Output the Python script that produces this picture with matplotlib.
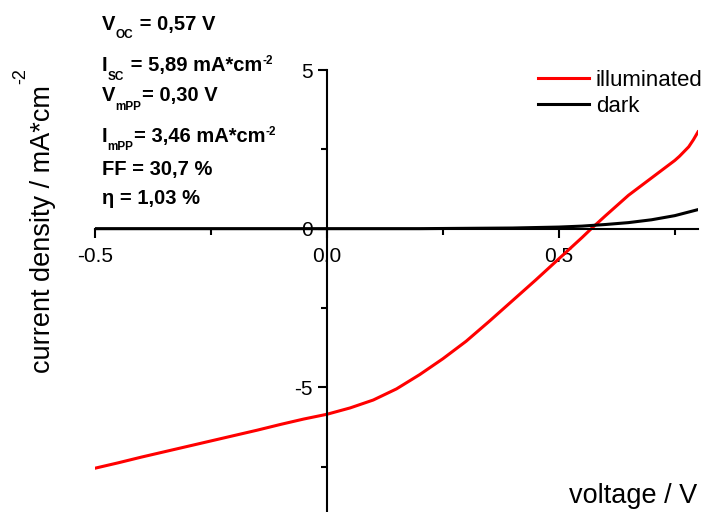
import matplotlib
matplotlib.use('Agg')
import matplotlib.pyplot as plt
from matplotlib.ticker import FixedLocator, FixedFormatter

plt.rcParams['font.family'] = ['Liberation Sans', 'DejaVu Sans']

# J-V curves
voltage_light = [-0.5, -0.45, -0.4, -0.35, -0.3, -0.25, -0.2, -0.15, -0.1, -0.05, 0.0,
                 0.05, 0.1, 0.15, 0.2, 0.25, 0.3, 0.35, 0.4, 0.45, 0.5, 0.55, 0.57,
                 0.6, 0.65, 0.7, 0.72, 0.75, 0.76, 0.78, 0.79, 0.8]
current_light = [-7.55, -7.38, -7.2, -7.03, -6.86, -6.69, -6.52, -6.35, -6.17, -6.0, -5.85,
                 -5.65, -5.4, -5.05, -4.6, -4.1, -3.55, -2.92, -2.27, -1.62, -0.95, -0.28, 0.0,
                 0.4, 1.05, 1.6, 1.82, 2.15, 2.28, 2.58, 2.8, 3.05]
voltage_dark = [-0.5, -0.2, 0.0, 0.2, 0.3, 0.4, 0.5, 0.55, 0.6, 0.65, 0.7, 0.75, 0.8]
current_dark = [0.0, 0.0, 0.0, 0.0, 0.01, 0.02, 0.05, 0.08, 0.13, 0.19, 0.28, 0.41, 0.6]

x_ticks = [-0.5, 0.0, 0.5]
x_tick_labels = ['-0.5', '0.0', '0.5']
x_minor_ticks = [-0.25, 0.25, 0.75]
y_ticks = [-5, 0, 5]
y_tick_labels = ['-5', '0', '5']
y_minor_ticks = [-7.5, -2.5, 2.5]

# cell parameters: (text, kind) pieces, kind 0 = normal, -1 = subscript, 1 = superscript
param_lines = [
    [('V', 0), ('OC', -1), (' = 0,57 V', 0)],
    [('I', 0), ('SC', -1), (' = 5,89 mA*cm', 0), ('-2', 1)],
    [('V', 0), ('mPP', -1), ('= 0,30 V', 0)],
    [('I', 0), ('mPP', -1), ('= 3,46 mA*cm', 0), ('-2', 1)],
    [('FF = 30,7 %', 0)],
    [('η = 1,03 %', 0)],
]
param_baselines = [30, 71, 101, 142, 175, 204]

W, H = 702, 512
fig = plt.figure(figsize=(W / 100, H / 100), dpi=100)
ax = fig.add_axes([95 / W, 0, 603 / W, 442 / H])

ax.plot(voltage_light, current_light, color='#ff0000', lw=2.2, label='illuminated')
ax.plot(voltage_dark, current_dark, color='black', lw=2.2, label='dark')

ax.set_xlim(-0.5, 0.8)
ax.set_ylim(-8.93, 5)

for side in ['top', 'right']:
    ax.spines[side].set_visible(False)
ax.spines['left'].set_position(('data', 0))
ax.spines['bottom'].set_position(('data', 0))
for side in ['left', 'bottom']:
    ax.spines[side].set_linewidth(1.5)

ax.xaxis.set_major_locator(FixedLocator(x_ticks))
ax.xaxis.set_major_formatter(FixedFormatter(x_tick_labels))
ax.xaxis.set_minor_locator(FixedLocator(x_minor_ticks))
ax.yaxis.set_major_locator(FixedLocator(y_ticks))
ax.yaxis.set_major_formatter(FixedFormatter(y_tick_labels))
ax.yaxis.set_minor_locator(FixedLocator(y_minor_ticks))

ax.tick_params(which='major', direction='out', length=6.5, width=1.5, labelsize=15)
ax.tick_params(which='minor', direction='out', length=4, width=1.5)
ax.tick_params(axis='x', which='major', pad=6.5)
ax.tick_params(axis='y', which='major', pad=3.6)

leg = ax.legend(loc='upper left', bbox_to_anchor=(538 / W, 1 - 70 / H),
                bbox_transform=fig.transFigure, frameon=False, fontsize=16,
                borderpad=0, borderaxespad=0, labelspacing=0.22,
                handlelength=2.3, handletextpad=0.3)

renderer = fig.canvas.get_renderer()

fig.text(697 / W, 1 - 503 / H, 'voltage / V', fontsize=19.5, ha='right', va='baseline')
ylab = fig.text(50 / W, 1 - 373 / H, 'current density / mA*cm', fontsize=19.5,
                rotation=90, rotation_mode='anchor', ha='left', va='baseline')
ylab_len = ylab.get_window_extent(renderer).height
fig.text(25 / W, (H - 373 + ylab_len + 1) / H, '-2', fontsize=13,
         rotation=90, rotation_mode='anchor', ha='left', va='baseline')

# parameter block, drawn piece by piece so the sub/superscripts sit like the original
sizes = {0: 14.5, -1: 8.5, 1: 8.5}
shifts = {0: 0, -1: -8.5, 1: 7}
for pieces, base in zip(param_lines, param_baselines):
    x = 102
    for txt, kind in pieces:
        t = fig.text(x / W, (H - base + shifts[kind]) / H, txt, fontsize=sizes[kind],
                     fontweight='bold', ha='left', va='baseline')
        x += t.get_window_extent(renderer).width + (1 if kind != 0 else 0)

fig.savefig('out.png', dpi=100)
